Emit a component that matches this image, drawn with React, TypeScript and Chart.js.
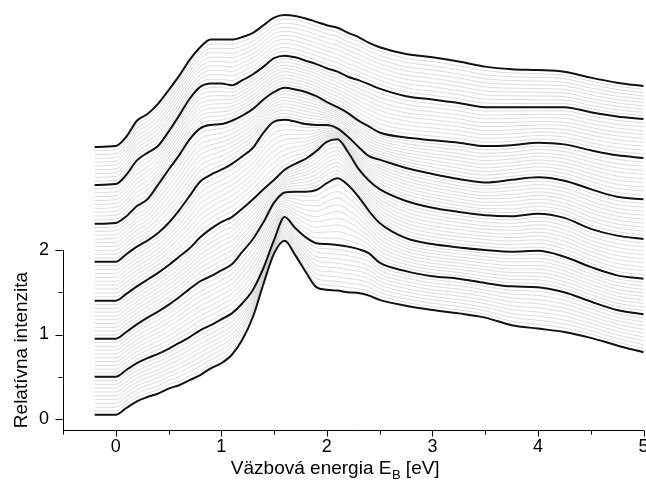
import { useEffect, useRef } from 'react';
import { Chart, registerables } from 'chart.js';

Chart.register(...registerables);

// Binding energy grid (eV) shared by all scans
const energy = [
  -0.2, 0, 0.1, 0.2, 0.3, 0.4, 0.5, 0.6, 0.7, 0.8, 0.9, 1.0, 1.1, 1.2, 1.3, 1.4, 1.5, 1.6, 1.7,
  1.8, 1.9, 2.0, 2.1, 2.2, 2.3, 2.4, 2.5, 2.75, 3.0, 3.25, 3.5, 3.75, 4.0, 4.25, 4.5, 4.75, 5.0,
];

// Bold scans, bottom to top, already stacked by their vertical offset
const scan1 = [0.05, 0.05, 0.13, 0.21, 0.26, 0.30, 0.36, 0.40, 0.46, 0.52, 0.60, 0.66, 0.76, 0.94, 1.21, 1.60, 1.96, 2.11, 1.94, 1.74, 1.56, 1.53, 1.52, 1.50, 1.49, 1.46, 1.41, 1.34, 1.29, 1.25, 1.20, 1.11, 1.07, 1.03, 0.96, 0.87, 0.79];
const scan2 = [0.50, 0.50, 0.58, 0.66, 0.72, 0.77, 0.83, 0.90, 0.97, 1.05, 1.11, 1.18, 1.25, 1.37, 1.53, 1.79, 2.12, 2.39, 2.26, 2.15, 2.08, 2.07, 2.06, 2.04, 2.01, 1.96, 1.85, 1.75, 1.69, 1.66, 1.61, 1.57, 1.56, 1.50, 1.39, 1.29, 1.24];
const scan3 = [0.95, 0.95, 1.03, 1.12, 1.20, 1.27, 1.35, 1.44, 1.54, 1.63, 1.69, 1.76, 1.83, 1.98, 2.13, 2.33, 2.56, 2.68, 2.69, 2.69, 2.71, 2.79, 2.85, 2.77, 2.63, 2.46, 2.32, 2.14, 2.07, 2.03, 2.00, 1.98, 1.99, 1.92, 1.80, 1.70, 1.66];
const scan4 = [1.40, 1.40, 1.48, 1.57, 1.65, 1.73, 1.82, 1.92, 2.02, 2.15, 2.25, 2.33, 2.39, 2.49, 2.60, 2.72, 2.83, 2.95, 3.02, 3.08, 3.17, 3.28, 3.31, 3.16, 2.96, 2.82, 2.72, 2.58, 2.50, 2.45, 2.41, 2.40, 2.43, 2.38, 2.25, 2.17, 2.13];
const scan5 = [1.86, 1.86, 1.95, 2.04, 2.11, 2.20, 2.32, 2.47, 2.64, 2.81, 2.89, 2.95, 3.02, 3.11, 3.21, 3.39, 3.52, 3.54, 3.52, 3.49, 3.48, 3.48, 3.44, 3.34, 3.22, 3.11, 3.07, 2.97, 2.90, 2.84, 2.80, 2.83, 2.86, 2.82, 2.72, 2.63, 2.60];
const scan6 = [2.31, 2.32, 2.40, 2.52, 2.60, 2.77, 2.95, 3.12, 3.31, 3.44, 3.48, 3.49, 3.53, 3.59, 3.67, 3.78, 3.87, 3.92, 3.90, 3.87, 3.82, 3.75, 3.69, 3.62, 3.53, 3.46, 3.39, 3.33, 3.30, 3.27, 3.23, 3.24, 3.27, 3.25, 3.18, 3.12, 3.09];
const scan7 = [2.77, 2.78, 2.89, 3.06, 3.15, 3.23, 3.40, 3.59, 3.79, 3.93, 3.97, 3.97, 3.95, 4.01, 4.08, 4.17, 4.27, 4.30, 4.28, 4.24, 4.20, 4.15, 4.11, 4.05, 4.01, 3.96, 3.91, 3.82, 3.78, 3.74, 3.69, 3.69, 3.69, 3.69, 3.63, 3.58, 3.55];
const scan8 = [3.22, 3.23, 3.34, 3.53, 3.61, 3.73, 3.89, 4.06, 4.25, 4.40, 4.49, 4.49, 4.49, 4.52, 4.57, 4.66, 4.75, 4.78, 4.77, 4.74, 4.70, 4.66, 4.63, 4.57, 4.52, 4.45, 4.40, 4.32, 4.28, 4.23, 4.17, 4.14, 4.13, 4.11, 4.04, 3.98, 3.94];

const boldScans = [scan1, scan2, scan3, scan4, scan5, scan6, scan7, scan8];

// Number of steps from one bold scan to the next (thin scans lie in between)
const STEPS_PER_GROUP = 10;

const xMajorTicks = [0, 1, 2, 3, 4, 5];
const xMinorTicks = [-0.5, 0.5, 1.5, 2.5, 3.5, 4.5];
const yMajorTicks = [0, 1, 2];
const yMinorTicks = [0.5, 1.5];

const xTitle = 'Väzbová energia E';
const xTitleSub = 'B';
const xTitleTail = ' [eV]';
const yTitle = 'Relatívna intenzita';

const FONT = "'Liberation Sans', Arial, Helvetica, sans-serif";

function toPoints(values: number[]) {
  return energy.map((e, i) => ({ x: e, y: values[i] }));
}

function buildDatasets() {
  const bold = boldScans.map((s) => ({
    data: toPoints(s),
    borderColor: '#111',
    borderWidth: 2,
    pointRadius: 0,
    cubicInterpolationMode: 'monotone' as const,
    clip: false as const,
  }));
  // intermediate scans blended from the two neighbouring bold ones
  const thin: any[] = [];
  for (let k = 0; k < boldScans.length - 1; k++) {
    const lo = boldScans[k];
    const hi = boldScans[k + 1];
    for (let j = 1; j < STEPS_PER_GROUP; j++) {
      const t = j / STEPS_PER_GROUP;
      thin.push({
        data: toPoints(lo.map((v, i) => v * (1 - t) + hi[i] * t)),
        borderColor: '#b8b8b8',
        borderWidth: 0.5,
        pointRadius: 0,
        cubicInterpolationMode: 'monotone' as const,
        clip: false as const,
      });
    }
  }
  // first datasets are painted last, so bold scans stay on top
  return [...bold, ...thin];
}

const axisDecor = {
  id: 'axisDecor',
  afterDraw(chart: any) {
    const { ctx, scales } = chart;
    const x = scales.x;
    const y = scales.y;
    ctx.save();
    ctx.strokeStyle = '#000';
    ctx.lineWidth = 1;
    ctx.beginPath();
    const axisY = Math.round(x.top) + 0.5;
    const axisX = Math.round(y.right) - 0.5;
    const tickX = (v: number, len: number) => {
      const px = Math.round(x.getPixelForValue(v)) + 0.5;
      ctx.moveTo(px, axisY);
      ctx.lineTo(px, axisY + len);
    };
    const tickY = (v: number, len: number) => {
      const py = Math.round(y.getPixelForValue(v)) + 0.5;
      ctx.moveTo(axisX, py);
      ctx.lineTo(axisX - len, py);
    };
    xMajorTicks.forEach((v) => tickX(v, 6));
    xMinorTicks.forEach((v) => tickX(v, 4));
    yMajorTicks.forEach((v) => tickY(v, 7));
    yMinorTicks.forEach((v) => tickY(v, 4));
    ctx.stroke();

    // x-axis title with subscript
    ctx.fillStyle = '#000';
    ctx.textBaseline = 'alphabetic';
    ctx.textAlign = 'left';
    const mainFont = `19px ${FONT}`;
    const subFont = `13px ${FONT}`;
    ctx.font = mainFont;
    const w1 = ctx.measureText(xTitle).width;
    const w3 = ctx.measureText(xTitleTail).width;
    ctx.font = subFont;
    const w2 = ctx.measureText(xTitleSub).width;
    const cx = 335;
    const base = 474;
    let sx = cx - (w1 + w2 + w3) / 2;
    ctx.font = mainFont;
    ctx.fillText(xTitle, sx, base);
    sx += w1;
    ctx.font = subFont;
    ctx.fillText(xTitleSub, sx + 0.5, base + 5);
    sx += w2 + 0.5;
    ctx.font = mainFont;
    ctx.fillText(xTitleTail, sx, base);

    // y-axis title
    ctx.translate(26.5, 350);
    ctx.rotate(-Math.PI / 2);
    ctx.textAlign = 'center';
    ctx.font = `19px ${FONT}`;
    ctx.fillText(yTitle, 0, 0);
    ctx.restore();
  },
};

export default function App() {
  const canvasRef = useRef<HTMLCanvasElement | null>(null);

  useEffect(() => {
    const canvas = canvasRef.current;
    if (!canvas) return;
    const chart = new Chart(canvas, {
      type: 'line',
      data: { datasets: buildDatasets() },
      options: {
        responsive: false,
        devicePixelRatio: 1,
        animation: false,
        events: [],
        layout: { padding: { top: 250, right: 2.5, bottom: 0, left: 0 } },
        plugins: { legend: { display: false }, tooltip: { enabled: false } },
        scales: {
          x: {
            type: 'linear',
            min: -0.5,
            max: 5,
            afterBuildTicks: (s: any) => {
              s.ticks = xMajorTicks.map((v) => ({ value: v }));
            },
            afterFit: (s: any) => {
              s.height = 60;
              s.paddingLeft = 0;
              s.paddingRight = 0;
            },
            grid: { display: false },
            border: { display: true, color: '#000', width: 1 },
            ticks: {
              color: '#000',
              font: { family: FONT, size: 18 },
              padding: -2,
              maxRotation: 0,
              autoSkip: false,
              callback: (v: any) => String(v),
            },
          },
          y: {
            type: 'linear',
            min: -0.13,
            max: 2,
            afterBuildTicks: (s: any) => {
              s.ticks = yMajorTicks.map((v) => ({ value: v }));
            },
            afterFit: (s: any) => {
              s.width = 63;
              s.paddingTop = 0;
              s.paddingBottom = 0;
            },
            grid: { display: false },
            border: { display: true, color: '#000', width: 1 },
            ticks: {
              color: '#000',
              font: { family: FONT, size: 18 },
              padding: 6,
              autoSkip: false,
              callback: (v: any) => String(v),
            },
          },
        },
      },
      plugins: [axisDecor],
    });
    return () => chart.destroy();
  }, []);

  return (
    <div style={{ position: 'absolute', left: 0, top: 0, width: 646, height: 490, background: '#fff' }}>
      <canvas ref={canvasRef} width={646} height={490} style={{ display: 'block' }} />
    </div>
  );
}
